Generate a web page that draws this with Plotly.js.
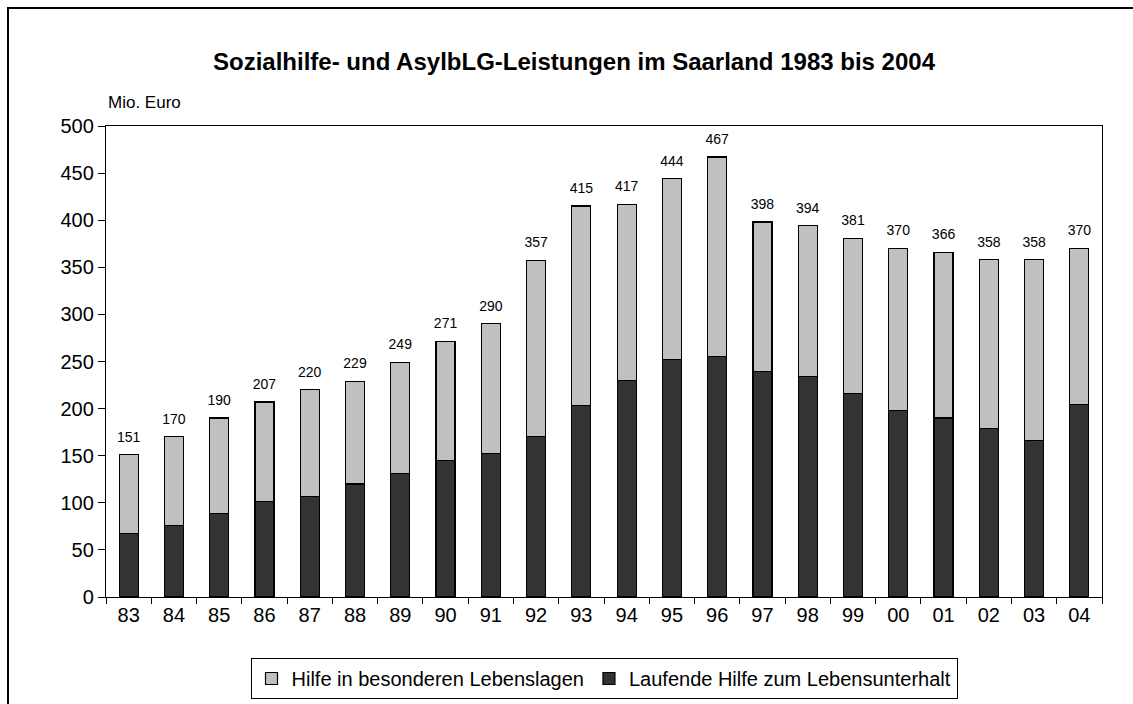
<!DOCTYPE html>
<html>
<head>
<meta charset="utf-8">
<script src="https://cdn.plot.ly/plotly-3.0.1.min.js"></script>
<style>
  html, body { margin: 0; padding: 0; background: #fff; }
  #wrap { position: relative; width: 1133px; height: 704px; overflow: hidden; }
  #frame { position: absolute; left: 7px; top: 7px; width: 1200px; height: 800px; border-left: 2px solid #000; border-top: 2px solid #000; pointer-events: none; }
  #chart { position: absolute; left: 0; top: 0; width: 1133px; height: 704px; }
</style>
</head>
<body>
<div id="wrap">
  <div id="chart"></div>
  <div id="frame"></div>
</div>
<script>
const years = ["83","84","85","86","87","88","89","90","91","92","93","94","95","96","97","98","99","00","01","02","03","04"];
const totals = [151,170,190,207,220,229,249,271,290,357,415,417,444,467,398,394,381,370,366,358,358,370];
const laufende = [67,76,89,101,107,120,131,145,152,170,203,230,252,255,239,234,216,198,190,179,166,204];
const besondere = totals.map((t, i) => t - laufende[i]);

const font = "Liberation Sans, Arial, sans-serif";

const traces = [
  {
    type: "bar", x: years, y: laufende, name: "Laufende Hilfe zum Lebensunterhalt",
    marker: { color: "#333333", line: { color: "#000", width: 1.2 } },
    hoverinfo: "y"
  },
  {
    type: "bar", x: years, y: besondere, name: "Hilfe in besonderen Lebenslagen",
    marker: { color: "#c0c0c0", line: { color: "#000", width: 1.2 } },
    hoverinfo: "y"
  },
  {
    type: "scatter", mode: "markers+text", x: years, y: totals, text: totals.map(String),
    marker: { size: 14, opacity: 0 },
    textposition: "top center", textfont: { family: font, size: 14, color: "#000" },
    showlegend: false, hoverinfo: "skip", cliponaxis: false
  }
];

const layout = {
  width: 1133, height: 704,
  margin: { l: 106, r: 31, t: 126, b: 107, autoexpand: false },
  paper_bgcolor: "rgba(0,0,0,0)", plot_bgcolor: "#fff",
  barmode: "stack", bargap: 0.58,
  font: { family: font, color: "#000" },
  title: { text: "<b>Sozialhilfe- und AsylbLG-Leistungen im Saarland 1983 bis 2004</b>",
           font: { family: font, size: 24, color: "#000" },
           x: 574/1133, xanchor: "center", y: 1 - 62/704, yanchor: "middle" },
  xaxis: {
    type: "category", range: [-0.5, 21.5], tickson: "boundaries", ticks: "outside", ticklen: 6, tickcolor: "#000",
    showline: true, linecolor: "#000", linewidth: 1.2, mirror: true,
    showgrid: false, tickfont: { family: font, size: 20, color: "#000" }, fixedrange: true
  },
  yaxis: {
    range: [0, 500], dtick: 50, ticks: "outside", ticklen: 7, tickcolor: "#000",
    showline: true, linecolor: "#000", linewidth: 1.2, mirror: true,
    showgrid: false, zeroline: false, tickfont: { family: font, size: 20, color: "#000" }, fixedrange: true
  },
  showlegend: true,
  legend: {
    orientation: "h", x: 0.5, xanchor: "center", y: -61/471, yanchor: "top",
    traceorder: "reversed", bordercolor: "#000", borderwidth: 1, bgcolor: "#fff",
    font: { family: font, size: 20, color: "#000" }, itemwidth: 30,
    tracegroupgap: 0
  },
  annotations: [
    { text: "Mio. Euro", xref: "paper", yref: "paper", x: 0, y: 1, xanchor: "left", yanchor: "bottom",
      yshift: 12, showarrow: false, font: { family: font, size: 17, color: "#000" } }
  ]
};

Plotly.newPlot("chart", traces, layout, { displayModeBar: false, staticPlot: true });
</script>
</body>
</html>
